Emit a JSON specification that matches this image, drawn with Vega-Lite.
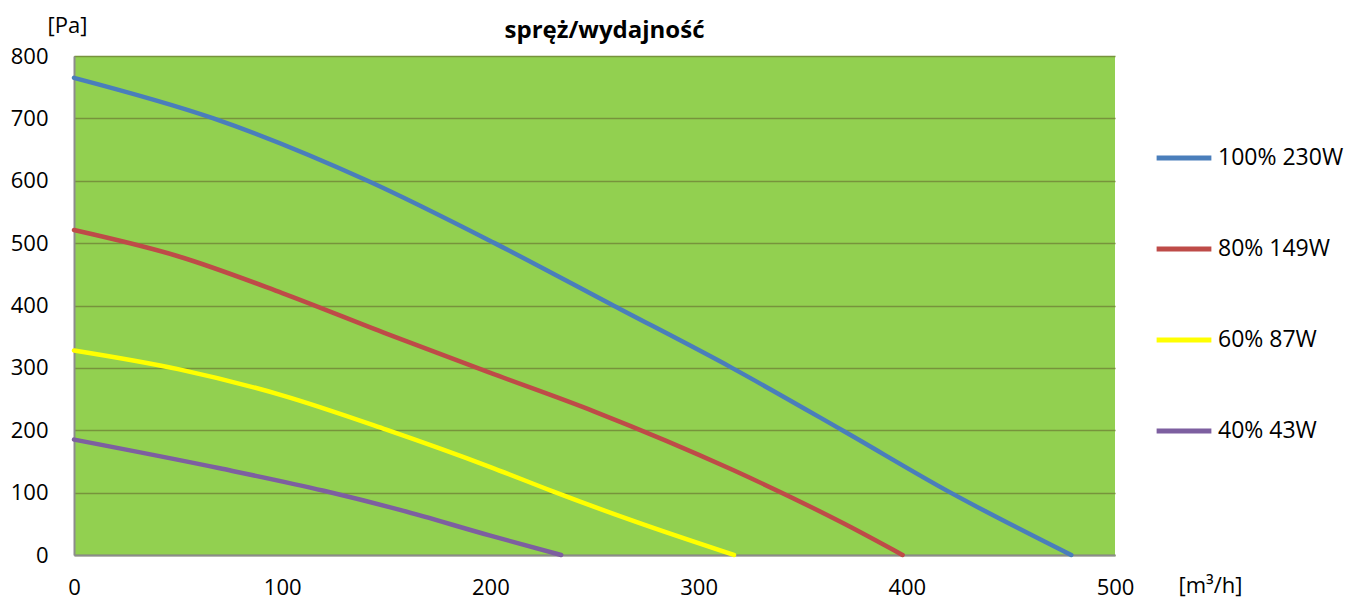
{
  "$schema": "https://vega.github.io/schema/vega-lite/v6.json",
  "width": 1041,
  "height": 499,
  "autosize": "none",
  "padding": {"left": 74, "top": 56, "right": 245, "bottom": 45},
  "background": "white",
  "title": {"text": "spręż/wydajność", "font": "Open Sans", "fontSize": 24, "fontWeight": "bold", "color": "#000000", "anchor": "middle", "baseline": "alphabetic", "offset": -48, "dx": 10},
  "config": {
    "view": {"fill": "#92D050", "stroke": null},
    "font": "Open Sans"
  },
  "data": {"values": [
    {"q": 0, "p": 765, "s": "100% 230W"},
    {"q": 67, "p": 700, "s": "100% 230W"},
    {"q": 141, "p": 600, "s": "100% 230W"},
    {"q": 202, "p": 500, "s": "100% 230W"},
    {"q": 259, "p": 400, "s": "100% 230W"},
    {"q": 316, "p": 300, "s": "100% 230W"},
    {"q": 369, "p": 200, "s": "100% 230W"},
    {"q": 421, "p": 100, "s": "100% 230W"},
    {"q": 479, "p": 0, "s": "100% 230W"},
    {"q": 0, "p": 521, "s": "80% 149W"},
    {"q": 50, "p": 479, "s": "80% 149W"},
    {"q": 100, "p": 420, "s": "80% 149W"},
    {"q": 150, "p": 355, "s": "80% 149W"},
    {"q": 200, "p": 292, "s": "80% 149W"},
    {"q": 250, "p": 230, "s": "80% 149W"},
    {"q": 316, "p": 137, "s": "80% 149W"},
    {"q": 370, "p": 50, "s": "80% 149W"},
    {"q": 398, "p": 0, "s": "80% 149W"},
    {"q": 0, "p": 328, "s": "60% 87W"},
    {"q": 50, "p": 298, "s": "60% 87W"},
    {"q": 100, "p": 256, "s": "60% 87W"},
    {"q": 150, "p": 201, "s": "60% 87W"},
    {"q": 200, "p": 141, "s": "60% 87W"},
    {"q": 230, "p": 102, "s": "60% 87W"},
    {"q": 270, "p": 53, "s": "60% 87W"},
    {"q": 317, "p": 0, "s": "60% 87W"},
    {"q": 0, "p": 185, "s": "40% 43W"},
    {"q": 70, "p": 139, "s": "40% 43W"},
    {"q": 120, "p": 103, "s": "40% 43W"},
    {"q": 157, "p": 72, "s": "40% 43W"},
    {"q": 200, "p": 31, "s": "40% 43W"},
    {"q": 234, "p": 0, "s": "40% 43W"}
  ]},
  "mark": {"type": "line", "interpolate": "monotone", "strokeWidth": 4.5, "strokeCap": "round"},
  "encoding": {
    "x": {"field": "q", "type": "quantitative",
      "scale": {"domain": [0, 500], "nice": false},
      "axis": {"values": [0, 100, 200, 300, 400, 500], "grid": false, "ticks": false, "labelFlush": false, "domainColor": "#8C8C8C", "domainWidth": 2, "labelFontSize": 22, "labelColor": "#000000", "labelPadding": 22, "labelFont": "Open Sans",
        "title": "[m³/h]", "titleFontSize": 22, "titleFontWeight": "normal", "titleColor": "#000000", "titleFont": "Open Sans", "titleX": 1136, "titleY": 37, "titleAlign": "center", "titleBaseline": "alphabetic"}},
    "y": {"field": "p", "type": "quantitative",
      "scale": {"domain": [0, 800], "nice": false},
      "axis": {"values": [0, 100, 200, 300, 400, 500, 600, 700, 800], "grid": true, "gridColor": "#77933C", "gridWidth": 1.5, "ticks": false, "domainColor": "#8C8C8C", "domainWidth": 2, "labelFontSize": 22, "labelColor": "#000000", "labelPadding": 26, "labelFont": "Open Sans",
        "title": "[Pa]", "titleAngle": 0, "titleFontSize": 22, "titleFontWeight": "normal", "titleColor": "#000000", "titleFont": "Open Sans", "titleX": -7, "titleY": -24, "titleAlign": "center", "titleBaseline": "alphabetic"}},
    "color": {"field": "s", "type": "nominal",
      "scale": {"domain": ["100% 230W", "80% 149W", "60% 87W", "40% 43W"], "range": ["#4A7EBB", "#BE4B48", "#FFFF00", "#7D5FA0"]},
      "legend": {"title": null, "orient": "none", "legendX": 1080, "legendY": 72, "symbolType": "stroke", "symbolSize": 3000, "symbolStrokeWidth": 5, "labelFontSize": 23, "labelFont": "Open Sans", "labelColor": "#000000", "rowPadding": 49, "labelOffset": 4, "labelLimit": 250}}
  }
}
